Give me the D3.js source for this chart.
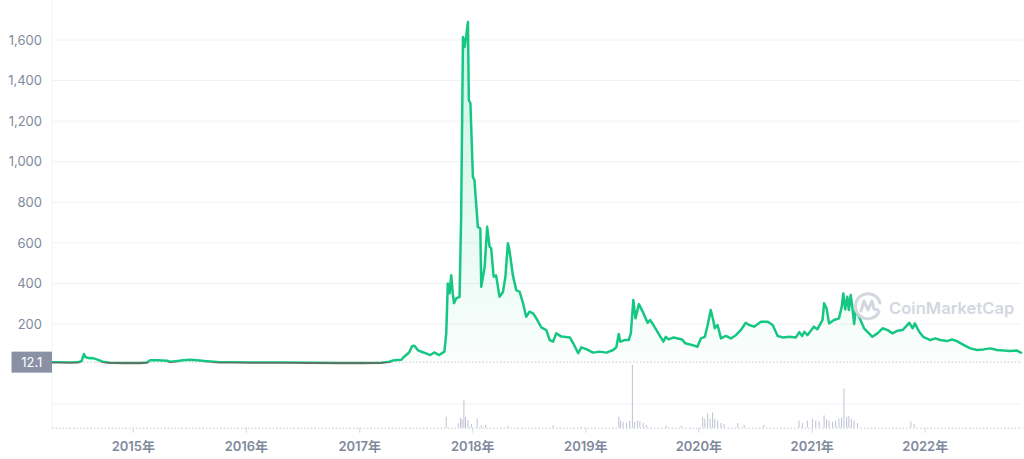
<!DOCTYPE html>
<html><head><meta charset="utf-8">
<script src="https://cdn.jsdelivr.net/npm/d3@7"></script>
<style>html,body{margin:0;padding:0;background:#fff;overflow:hidden}svg{display:block}</style>
</head><body>
<svg id="chart" width="1024" height="459"></svg>
<script>
// ---- data ----
const priceDates = [
"2014-04-15","2014-05-10","2014-06-11","2014-07-07","2014-07-20","2014-07-27","2014-08-02","2014-08-15","2014-08-25","2014-09-07","2014-09-26","2014-10-19","2014-12-06",
"2015-01-24","2015-02-16","2015-02-26","2015-03-23","2015-04-21","2015-05-01","2015-05-20","2015-06-11","2015-07-04","2015-07-27","2015-08-21","2015-10-09","2015-11-26",
"2016-01-17","2016-04-23","2016-07-30","2016-11-05",
"2017-01-07","2017-03-13","2017-04-08","2017-04-24","2017-05-17","2017-05-26","2017-06-11","2017-06-21","2017-06-28","2017-07-10","2017-07-23","2017-08-05","2017-08-18","2017-08-31","2017-09-16","2017-10-03","2017-10-09","2017-10-14","2017-10-20","2017-10-25","2017-10-30","2017-11-03","2017-11-10","2017-11-21","2017-11-26","2017-12-02","2017-12-07","2017-12-12","2017-12-18","2017-12-21","2017-12-26",
"2018-01-03","2018-01-08","2018-01-19","2018-01-27","2018-01-30","2018-02-10","2018-02-18","2018-02-26","2018-03-03","2018-03-11","2018-03-19","2018-03-30","2018-04-10","2018-04-18","2018-04-26","2018-05-01","2018-05-12","2018-05-23","2018-06-03","2018-06-14","2018-06-24","2018-07-05","2018-07-16","2018-07-27","2018-08-12","2018-08-28","2018-09-08","2018-09-19","2018-09-29","2018-10-16","2018-11-12","2018-11-23","2018-12-09","2018-12-19",
"2019-01-04","2019-01-26","2019-02-16","2019-03-10","2019-04-01","2019-04-11","2019-04-19","2019-04-24","2019-05-08","2019-05-21","2019-05-28","2019-06-05","2019-06-12","2019-06-23","2019-07-07","2019-07-21","2019-07-29","2019-08-09","2019-08-25","2019-09-10","2019-09-18","2019-09-27","2019-10-13","2019-11-09","2019-11-20","2019-12-11","2019-12-29",
"2020-01-09","2020-01-22","2020-01-31","2020-02-10","2020-02-18","2020-02-23","2020-03-03","2020-03-14","2020-03-30","2020-04-15","2020-05-01","2020-05-17","2020-06-02","2020-06-13","2020-06-29","2020-07-21","2020-08-12","2020-08-28","2020-09-13","2020-09-29","2020-10-21","2020-11-11","2020-11-22","2020-12-01","2020-12-08","2020-12-18",
"2021-01-08","2021-01-19","2021-02-05","2021-02-10","2021-02-18","2021-02-26","2021-03-14","2021-03-30","2021-04-08","2021-04-13","2021-04-19","2021-04-26","2021-05-01","2021-05-07","2021-05-12","2021-05-18","2021-05-23","2021-06-03","2021-06-19","2021-07-05","2021-07-16","2021-08-01","2021-08-18","2021-09-03","2021-09-19","2021-10-05","2021-10-21","2021-11-01","2021-11-12","2021-11-23","2021-11-30","2021-12-14","2021-12-27",
"2022-01-19","2022-02-04","2022-02-20","2022-03-14","2022-03-30","2022-04-15","2022-05-06","2022-05-28","2022-06-19","2022-07-10","2022-08-01","2022-08-22","2022-09-13","2022-10-04","2022-10-26","2022-11-11"
];
const priceValues = [
12.1,11,10,11,18,52,36,31,32,26,14,9,8,
8,10,22,21,19,14,17,21,24,22,18,12,11,
10,10,9,8,
8,9,14,22,24,39,60,92,93,70,62,55,47,60,47,64,155,400,352,441,351,303,326,334,728,1615,1566,1615,1689,1303,1288,
925,909,679,671,384,482,679,581,573,433,440,334,358,433,598,565,441,367,359,302,236,261,253,228,183,170,121,113,154,138,134,105,56,85,
76,59,64,59,72,85,151,113,121,121,154,318,228,298,256,206,220,195,154,113,137,124,134,124,105,97,88,
129,137,195,269,220,179,195,129,141,129,145,170,206,195,187,211,211,195,141,134,137,134,160,141,162,145,
187,174,220,302,277,203,220,228,285,351,272,334,269,343,285,200,269,236,179,154,137,154,179,170,154,167,170,187,206,179,203,162,137,
121,129,121,116,124,116,97,80,72,75,80,72,69,67,69,56
];
const volumeDates = [
"2017-10-09","2017-11-17","2017-11-24","2017-11-29","2017-12-05","2017-12-10","2017-12-18","2017-12-29","2018-01-17","2018-01-30","2018-02-13","2018-04-26","2018-09-19","2018-12-19",
"2019-04-19","2019-04-25","2019-05-03","2019-05-14","2019-05-24","2019-06-02","2019-06-09","2019-06-18","2019-06-26","2019-07-07","2019-07-17","2019-09-20","2019-11-07",
"2020-01-15","2020-01-22","2020-01-31","2020-02-08","2020-02-16","2020-02-23","2020-03-03","2020-03-14","2020-03-24","2020-05-07","2020-05-28","2020-07-31","2020-11-21","2020-12-02","2020-12-18",
"2021-01-03","2021-01-14","2021-01-25","2021-02-10","2021-02-18","2021-02-26","2021-03-09","2021-03-19","2021-03-30","2021-04-07","2021-04-15","2021-04-24","2021-05-01","2021-05-09","2021-05-18","2021-05-29","2021-11-17","2021-11-28"
];
const volumeValues = [
0.46,0.18,0.42,0.35,1.17,0.46,0.32,0.15,0.39,0.10,0.12,0.08,0.11,0.05,
0.46,0.30,0.25,0.20,0.30,2.65,0.25,0.30,0.27,0.20,0.12,0.08,0.08,
0.46,0.38,0.60,0.38,0.64,0.38,0.30,0.20,0.15,0.20,0.12,0.12,0.30,0.20,0.30,
0.38,0.30,0.27,0.52,0.34,0.30,0.25,0.30,0.38,0.42,1.65,0.46,0.50,0.38,0.30,0.20,0.27,0.15
];
const yTickValues = [200,400,600,800,1000,1200,1400,1600];
const yearTicks = ["2015-01-01","2016-01-01","2017-01-01","2018-01-01","2019-01-01","2020-01-01","2021-01-01","2022-01-01"];
const referencePrice = 12.1;
const referenceLabel = "12.1";

// ---- drawing ----
const parse = d3.utcParse("%Y-%m-%d");
const prices = priceDates.map((d,i)=>({date:parse(d), value:priceValues[i]}));
const volumes = volumeDates.map((d,i)=>({date:parse(d), value:volumeValues[i]}));

const svg = d3.select("#chart");
const left = 52, right = 1022;
const x = d3.scaleUtc().domain([parse("2014-04-15"), parse("2022-11-11")]).range([left, right]);
const y = d3.scaleLinear().domain([0, 1600]).range([364.6, 40]);
const yv = d3.scaleLinear().domain([0, 2.7]).range([427.7, 363.7]);
const grey = "#808a9d";
const font = "Inter, 'Noto Sans CJK SC', sans-serif";

const defs = svg.append("defs");
const ag = defs.append("linearGradient").attr("id","areaGrad").attr("gradientUnits","userSpaceOnUse")
  .attr("x1",0).attr("x2",0).attr("y1",y(1690)).attr("y2",y(referencePrice));
ag.append("stop").attr("offset","0").attr("stop-color","#16c784").attr("stop-opacity",0.22);
ag.append("stop").attr("offset","1").attr("stop-color","#16c784").attr("stop-opacity",0.02);
const by = y(referencePrice);
const lg = defs.append("linearGradient").attr("id","lineGrad").attr("gradientUnits","userSpaceOnUse")
  .attr("x1",0).attr("x2",0).attr("y1",0).attr("y2",459);
lg.append("stop").attr("offset", by/459).attr("stop-color","#16c784");
lg.append("stop").attr("offset", by/459).attr("stop-color","#587566");

// horizontal grid (price)
svg.append("g").selectAll("line").data(yTickValues).join("line")
  .attr("x1",left).attr("x2",right).attr("y1",d=>y(d)).attr("y2",d=>y(d))
  .attr("stroke","#eff2f5").attr("stroke-width",1);
// volume grid
svg.append("line").attr("x1",left).attr("x2",right).attr("y1",yv(1)).attr("y2",yv(1))
  .attr("stroke","#eff2f5");
// vertical left axis line
svg.append("line").attr("x1",left).attr("x2",left).attr("y1",0).attr("y2",yv(0))
  .attr("stroke","#eff2f5");

// y axis labels
const yAxis = d3.axisLeft(y).tickValues(yTickValues).tickSize(0).tickPadding(10).tickFormat(d3.format(","));
const gy = svg.append("g").attr("transform",`translate(${left},0)`).call(yAxis);
gy.select(".domain").remove();
gy.selectAll("text").attr("fill",grey).attr("font-size",13).attr("font-family",font);

// volume bars
svg.append("g").selectAll("line").data(volumes).join("line")
  .attr("x1",d=>x(d.date)).attr("x2",d=>x(d.date))
  .attr("y1",yv(0)).attr("y2",d=>yv(d.value))
  .attr("stroke","#bcc2d2").attr("stroke-width",1);

// area
const area = d3.area().x(d=>x(d.date)).y0(by).y1(d=>y(d.value));
svg.append("path").datum(prices).attr("d",area).attr("fill","url(#areaGrad)");

// reference dotted line
svg.append("line").attr("x1",left).attr("x2",right).attr("y1",by).attr("y2",by)
  .attr("stroke","#c3c9d3").attr("stroke-width",1).attr("stroke-dasharray","1.5,2");

// price line
const line = d3.line().x(d=>x(d.date)).y(d=>y(d.value));
svg.append("path").datum(prices).attr("d",line).attr("fill","none")
  .attr("stroke","url(#lineGrad)").attr("stroke-width",2.5).attr("stroke-linejoin","round");

// x axis
const xAxis = d3.axisBottom(x).tickValues(yearTicks.map(parse)).tickSize(5).tickPadding(9)
  .tickFormat(d3.utcFormat("%Y年"));
const gx = svg.append("g").attr("transform",`translate(0,${yv(0)})`).call(xAxis);
gx.select(".domain").attr("stroke","#c3c9d3").attr("stroke-dasharray","1.5,2").attr("d",`M${left},0.5H${right}`);
gx.selectAll(".tick line").attr("stroke","#cfd6e4");
gx.selectAll("text").attr("fill",grey).attr("font-size",13).attr("font-weight",600).attr("font-family",font);

// reference label box
const lb = svg.append("g");
lb.append("rect").attr("x",11.5).attr("y",by-10.5).attr("width",left-11.5).attr("height",21).attr("fill","#8a91a5");
lb.append("text").attr("x",(11.5+left)/2).attr("y",by+4.5).attr("text-anchor","middle")
  .attr("fill","#fff").attr("font-size",13).attr("font-family",font).text(referenceLabel);

// watermark
const wm = svg.append("g");
const cx = 868, cy = 306;
wm.append("path").attr("d",`M${cx+11},${cy+6} A12.5,12.5 0 1 1 ${cx+12},${cy-3}`)
  .attr("fill","none").attr("stroke","#d3d7df").attr("stroke-width",3).attr("stroke-linecap","round");
wm.append("path").attr("d",`M${cx-7},${cy+5} L${cx-4},${cy-5} L${cx},${cy+4} L${cx+4},${cy-5} L${cx+6},${cy+3} L${cx+10},${cy+4}`)
  .attr("fill","none").attr("stroke","#d3d7df").attr("stroke-width",3).attr("stroke-linejoin","round").attr("stroke-linecap","round");
wm.append("text").attr("x",889).attr("y",313.5).attr("fill","#d3d7df").attr("font-size",16.6)
  .attr("font-weight",600).attr("font-family",font).text("CoinMarketCap");
</script>
</body></html>
